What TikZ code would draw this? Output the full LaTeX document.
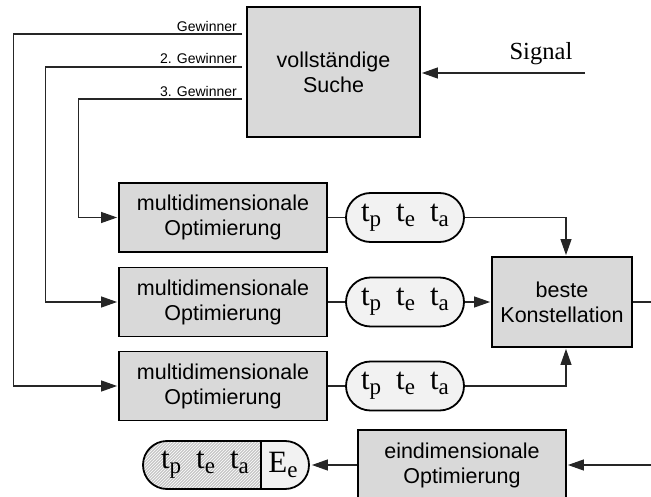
\documentclass[tikz,border=0pt]{standalone}
\usepackage{fontspec}
\setmainfont{Liberation Sans}
\newfontfamily\timesfont{Liberation Serif}
\usetikzlibrary{arrows.meta,shapes.misc,patterns}

\newcommand{\Tsub}[2]{{\timesfont\fontsize{31}{31}\selectfont #1\raisebox{-5pt}{\fontsize{23}{23}\selectfont #2}}}
\newcommand{\tpea}{\Tsub{t}{p}\hspace{15pt}\Tsub{t}{e}\hspace{15pt}\Tsub{t}{a}}

\begin{document}
\begin{tikzpicture}[x=1pt,y=-1pt,
    box/.style={draw, line width=1.8pt, fill=black!15, align=center, inner sep=0pt, font=\fontsize{21.5}{25}\selectfont},
    pill/.style={draw, line width=1.8pt, rounded rectangle, fill=black!5, inner sep=0pt, minimum width=118pt, minimum height=49pt},
    lab/.style={inner sep=0pt, anchor=base east, font=\fontsize{14}{14}\selectfont},
    link/.style={line width=1.1pt, black!85},
    arr/.style={link, -{Triangle[length=16pt,width=11pt]}, shorten >=1pt}]
    \useasboundingbox (0,0) rectangle (651,497);

    \node[box, minimum width=173pt, minimum height=130pt] (suche) at (333.5,72) {vollst\"andige\\Suche};
    \node[box, minimum width=208pt, minimum height=69pt] (opt1) at (223,217.5) {multidimensionale\\Optimierung};
    \node[box, minimum width=208pt, minimum height=69pt] (opt2) at (223,302) {multidimensionale\\Optimierung};
    \node[box, minimum width=208pt, minimum height=69pt] (opt3) at (223,386) {multidimensionale\\Optimierung};
    \node[box, minimum width=140pt, minimum height=90pt] (beste) at (562,302) {beste\\Konstellation};
    \node[box, minimum width=208pt, minimum height=70pt] (eindim) at (462,465) {eindimensionale\\Optimierung};

    \node[pill] (p1) at (405,217.5) {\tpea};
    \node[pill] (p2) at (405,302) {\tpea};
    \node[pill] (p3) at (405,386) {\tpea};

    \begin{scope}
      \clip[rounded corners=24pt] (143,441) rectangle (309,489);
      \fill[black!5] (143,441) rectangle (309,489);
      \fill[black!22] (143,441) rectangle (261,489);
      \fill[pattern=north east lines, pattern color=white] (143,441) rectangle (261,489);
    \end{scope}
    \node[pill, minimum width=166pt, minimum height=48pt, fill=none] (res) at (226,465) {};
    \coordinate (div) at (261,465);
    \draw[line width=1.8pt] (div |- res.north) -- (div |- res.south);
    \node[inner sep=0pt] (resT) at (205,465) {\tpea};
    \node[inner sep=0pt] (resE) at (283,465) {\Tsub{E}{e}};

    \node[font=\timesfont\fontsize{24.6}{24.6}\selectfont, inner sep=0pt, anchor=base] (siglab) at (541,60) {Signal};
    \coordinate (sig) at (585,73);
    \draw[arr] (sig) -- (sig -| suche.east);

    \node[lab] (w1) at (237,31.5) {Gewinner};
    \node[lab] (w2) at (237,64) {2. Gewinner};
    \node[lab] (w3) at (237,96.5) {3. Gewinner};
    \draw[arr] ([xshift=-4pt,yshift=38pt]suche.west) -- ++(-229,0) |- (opt3.west);
    \draw[arr] ([xshift=-4pt,yshift=5pt]suche.west) -- ++(-197,0) |- (opt2.west);
    \draw[arr] ([xshift=-4pt,yshift=-27pt]suche.west) -- ++(-164,0) |- (opt1.west);

    \draw[link] (opt1.east) -- (p1.west);
    \draw[link] (opt2.east) -- (p2.west);
    \draw[link] (opt3.east) -- (p3.west);
    \draw[arr] (p1.east) -| ([xshift=4pt]beste.north);
    \draw[arr] (p2.east) -- (beste.west);
    \draw[arr] (p3.east) -| ([xshift=4pt]beste.south);
    \coordinate (bout) at (651,302);
    \draw[link] (beste.east) -- (bout);

    \coordinate (ein) at (651,465);
    \draw[arr] (ein) -- (eindim.east);
    \draw[arr, shorten >=2pt] (eindim.west) -- (res.east);
\end{tikzpicture}
\end{document}
